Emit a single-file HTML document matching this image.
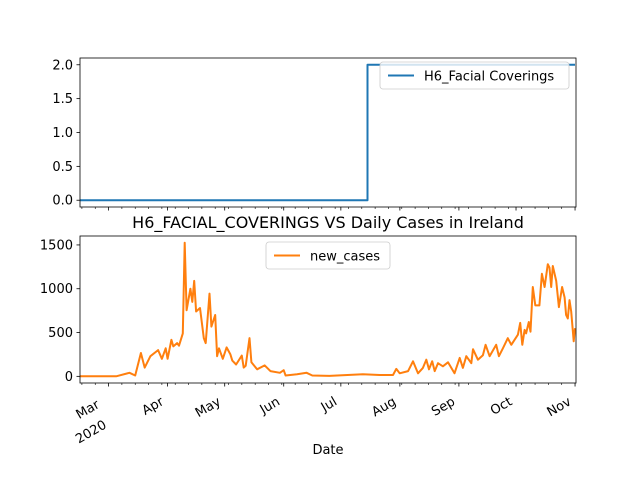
<!DOCTYPE html>
<html><head><meta charset="utf-8"><style>
body{margin:0;background:#fff;}
svg{display:block;font-family:"DejaVu Sans","Liberation Sans",sans-serif;}
</style></head><body>
<svg id="c" width="640" height="480"></svg>
<script>
const caseDays=[0,19,26,29,32,34,37,41,43,45,46,48,49,51,52,54,55,56,58,59,60,61,63,65,66,68,69,71,72,73,75,77,79,80,82,85,86,87,89,90,93,97,100,105,107,108,114,119,122,131,148.6,157.4,164.4,166.1,167.9,172.3,174.9,177.5,180.1,181.9,183.3,185,186.3,188,190.6,193.3,196.7,199.4,201.1,202.9,205.5,206.4,209,211.6,213,215.1,218.6,220,222.1,224.7,226.5,230,231.2,232.3,233.5,234.3,235.7,236.6,237.8,239.1,241.3,242.6,244,245.7,246.6,247.5,248.3,250.1,251.5,253.2,254.5,255.3,256.2,257.1,258,259.3,260];
const caseValues=[0,0,40,10,267,100,230,300,200,320,200,417,342,380,350,490,1526,755,1000,850,1090,740,780,436,380,944,568,700,230,320,200,330,250,180,135,237,100,120,436,160,80,125,60,40,70,10,25,40,10,5,25,15,15,85,35,60,172,35,96,190,80,172,60,150,115,160,35,210,96,230,150,310,190,240,360,230,360,230,320,435,360,475,610,360,530,490,620,510,1020,810,810,1170,1020,1280,1240,1020,1260,1090,790,1020,900,700,660,870,740,400,550];
const facialDays=[0,151,151,260];
const facialValues=[0,0,2,2];
const monthDays=[15,46,76,107,137,168,199,229,260];
const monthLabels=["Mar","Apr","May","Jun","Jul","Aug","Sep","Oct","Nov"];
const topTicks=[0,0.5,1,1.5,2];
const topTickLabels=["0.0","0.5","1.0","1.5","2.0"];
const botTicks=[0,500,1000,1500];
const botTickLabels=["0","500","1000","1500"];

const NS="http://www.w3.org/2000/svg";
const svg=document.getElementById('c');
function el(t,a,p){const e=document.createElementNS(NS,t);for(const k in a)e.setAttribute(k,a[k]);(p||svg).appendChild(e);return e;}
const X0=80,X1=576,D0=0,D1=260.5;
const xS=d=>X0+(d-D0)/(D1-D0)*(X1-X0);
const T={y0:207,y1:58,v0:-0.1,v1:2.1};
const B={y0:383,y1:236,v0:-76,v1:1602};
const yS=(ax,v)=>ax.y0+(v-ax.v0)/(ax.v1-ax.v0)*(ax.y1-ax.y0);

function axes(ax,name,ticks,labels,showX){
  const g=el('g',{});
  
  
  ticks.forEach((v,i)=>{
    const y=yS(ax,v);
    const t=el('line',{x1:X0-3.5,x2:X0,y1:y,y2:y,stroke:'#000','stroke-width':0.8},g);
    
    
    const tx=el('text',{x:X0-7,y:y+4.5,'text-anchor':'end','font-size':13},g);
    tx.textContent=labels[i];
    
    
  });
  for(let d=1;d<=260;d+=7){
    if(monthDays.some(m=>Math.abs(m-d)<0.5))continue;
    const x=xS(d);
    const m=el('line',{x1:x,x2:x,y1:ax.y0,y2:ax.y0+2,stroke:'#000','stroke-width':0.6},g);
    
    
  }
  monthDays.forEach((d,i)=>{
    const x=xS(d);
    const t=el('line',{x1:x,x2:x,y1:ax.y0,y2:ax.y0+3.5,stroke:'#000','stroke-width':0.8},g);
    
    
    if(showX){
      const tx=el('text',{transform:`translate(${x-3},${ax.y0+21}) rotate(-30)`,'text-anchor':'end','font-size':13},g);
      
      
      if(i===0){
        const a=el('tspan',{x:-6,y:0},tx);a.textContent=monthLabels[0];
        const b=el('tspan',{x:-10,y:21},tx);b.textContent='2020';
      } else tx.textContent=monthLabels[i];
    }
  });
}
function series(ax,days,vals,color,name){
  const pts=days.map((d,i)=>xS(d).toFixed(1)+','+yS(ax,vals[i]).toFixed(1)).join(' ');
  const p=el('polyline',{points:pts,fill:'none',stroke:color,'stroke-width':2,'stroke-linejoin':'round'});
  
  
}
function frame(ax,name){
  const r=el('rect',{x:X0,y:ax.y1,width:X1-X0,height:ax.y0-ax.y1,fill:'none',stroke:'#000','stroke-width':0.8});
  
  
}
function legend(x,y,w,label,color,name){
  const g=el('g',{});
  
  
  el('rect',{x:x,y:y,width:w,height:27,rx:3,fill:'#fff','fill-opacity':0.8,stroke:'#ccc','stroke-width':0.8},g);
  el('line',{x1:x+8,x2:x+34,y1:y+13.5,y2:y+13.5,stroke:color,'stroke-width':2},g);
  const t=el('text',{x:x+44,y:y+18.5,'font-size':13},g);t.textContent=label;
}
axes(T,'top-axes',topTicks,topTickLabels,false);
series(T,facialDays,facialValues,'#1f77b4','facial-coverings-line');
frame(T,'top-plot-frame');
legend(380,62,189,'H6_Facial Coverings','#1f77b4','top-legend');
axes(B,'bottom-axes',botTicks,botTickLabels,true);
series(B,caseDays,caseValues,'#ff7f0e','new-cases-line');
frame(B,'bottom-plot-frame');
legend(266,242,124,'new_cases','#ff7f0e','bottom-legend');
const title=el('text',{x:328,y:228,'text-anchor':'middle','font-size':16});
title.textContent='H6_FACIAL_COVERINGS VS Daily Cases in Ireland';


const xl=el('text',{x:328,y:454,'text-anchor':'middle','font-size':13});
xl.textContent='Date';


</script>
</body></html>
